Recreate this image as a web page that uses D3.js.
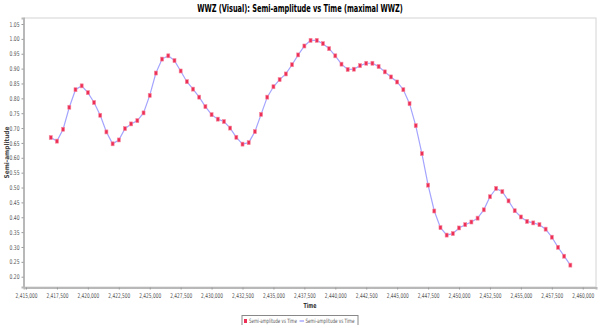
<!DOCTYPE html>
<html>
<head>
<meta charset="utf-8">
<script src="https://cdn.jsdelivr.net/npm/d3@7"></script>
<style>
html,body{margin:0;padding:0;background:#fff;}
svg{display:block;}
</style>
</head>
<body>
<svg id="chart" width="600" height="325"></svg>
<script>
const times = [2417000,2417500,2418000,2418500,2419000,2419500,2420000,2420500,2421000,2421500,
2422000,2422500,2423000,2423500,2424000,2424500,2425000,2425500,2426000,2426500,
2427000,2427500,2428000,2428500,2429000,2429500,2430000,2430500,2431000,2431500,
2432000,2432500,2433000,2433500,2434000,2434500,2435000,2435500,2436000,2436500,
2437000,2437500,2438000,2438500,2439000,2439500,2440000,2440500,2441000,2441500,
2442000,2442500,2443000,2443500,2444000,2444500,2445000,2445500,2446000,2446500,
2447000,2447500,2448000,2448500,2449000,2449500,2450000,2450500,2451000,2451500,
2452000,2452500,2453000,2453500,2454000,2454500,2455000,2455500,2456000,2456500,
2457000,2457500,2458000,2458500,2459000];
const semiAmplitude = [0.668,0.656,0.696,0.770,0.829,0.842,0.819,0.786,0.743,0.687,
0.647,0.660,0.698,0.714,0.725,0.751,0.810,0.885,0.932,0.943,
0.927,0.892,0.856,0.831,0.804,0.772,0.745,0.730,0.722,0.700,
0.669,0.646,0.651,0.688,0.746,0.804,0.839,0.863,0.882,0.913,
0.946,0.976,0.995,0.995,0.984,0.967,0.943,0.915,0.897,0.898,
0.910,0.918,0.918,0.907,0.889,0.872,0.855,0.829,0.782,0.708,
0.614,0.508,0.421,0.365,0.340,0.345,0.364,0.375,0.384,0.397,
0.425,0.469,0.497,0.486,0.455,0.422,0.401,0.386,0.381,0.375,
0.360,0.333,0.299,0.269,0.239];
const yTicks = [0.20,0.25,0.30,0.35,0.40,0.45,0.50,0.55,0.60,0.65,0.70,0.75,0.80,0.85,0.90,0.95,1.00,1.05];
const xTicks = [2415000,2417500,2420000,2422500,2425000,2427500,2430000,2432500,2435000,2437500,
2440000,2442500,2445000,2447500,2450000,2452500,2455000,2457500,2460000];
const titleText = "WWZ (Visual): Semi-amplitude vs Time (maximal WWZ)";
const xLabel = "Time";
const yLabel = "Semi-amplitude";
const seriesName = "Semi-amplitude vs Time";

(function () {
const svg = d3.select("#chart");
const pL = 24, pR = 596, pT = 18, pB = 287;
const x = d3.scaleLinear().domain([2414838, 2461071]).range([pL, pR]);
const y = d3.scaleLinear().domain([0.1654, 1.0702]).range([pB, pT]);

const font = "'DejaVu Sans Condensed','Liberation Sans Narrow','DejaVu Sans',sans-serif";

// squeeze a text horizontally to a target width (transform keeps bbox honest)
function squeeze(sel, width, anchorX, baseTransform) {
  sel.each(function () {
    const nat = this.getComputedTextLength();
    const sx = Math.min(1, width / nat);
    const t = d3.select(this);
    const ax = anchorX != null ? anchorX : +(t.attr("x") || 0);
    t.attr("x", ax / sx).attr("transform", (baseTransform || "") + ` scale(${sx},1)`);
  });
}

// plot frame
svg.append("rect").attr("x", pL).attr("y", pT).attr("width", pR-pL).attr("height", pB-pT)
  .attr("fill", "#fff").attr("stroke", "#d4d4d4").attr("stroke-width", 1);

// title
svg.append("text").attr("y", 12).attr("text-anchor", "middle")
  .attr("font-family", font).attr("font-weight", "bold").attr("font-size", 11)
  .attr("fill", "#000").text(titleText).call(squeeze, 206, 300);

// axes
const yAxis = d3.axisLeft(y).tickValues(yTicks).tickFormat(d3.format(".2f")).tickSize(2).tickPadding(2);
const gy = svg.append("g").attr("transform", `translate(${pL - 0.5},0)`).call(yAxis);
gy.select(".domain").attr("stroke", "#b8b8b8").attr("stroke-width", 2);
gy.selectAll(".tick line").attr("stroke", "#999");
gy.selectAll(".tick text").attr("font-family", font).attr("font-size", 6.5).attr("fill", "#555")
  .call(squeeze, 10, -4);

const xAxis = d3.axisBottom(x).tickValues(xTicks).tickFormat(d3.format(",")).tickSize(2).tickPadding(4);
const gx = svg.append("g").attr("transform", `translate(0,${pB + 0.5})`).call(xAxis);
gx.select(".domain").attr("stroke", "#b8b8b8").attr("stroke-width", 2);
gx.selectAll(".tick line").attr("stroke", "#999");
gx.selectAll(".tick text").attr("font-family", font).attr("font-size", 6.5).attr("fill", "#555")
  .call(squeeze, 22, 0);

// axis labels
svg.append("text").attr("y", 308).attr("text-anchor", "middle")
  .attr("font-family", font).attr("font-weight", "bold").attr("font-size", 7).attr("fill", "#333")
  .text(xLabel).call(squeeze, 13, (pL+pR)/2);
svg.append("text").attr("text-anchor", "middle").attr("font-family", font).attr("font-weight", "bold")
  .attr("font-size", 6.5).attr("fill", "#444").attr("y", 0)
  .text(yLabel).call(squeeze, 56, 0, `translate(9,${(pT+pB)/2}) rotate(-90)`);

// line
const data = times.map((t, i) => ({t, v: semiAmplitude[i]}));
const line = d3.line().x(d => x(d.t)).y(d => y(d.v));
svg.append("path").datum(data).attr("d", line).attr("fill", "none")
  .attr("stroke", "#a4a4ff").attr("stroke-width", 1.2);

// markers
svg.append("g").selectAll("rect").data(data).join("rect")
  .attr("x", d => x(d.t) - 1.5).attr("y", d => y(d.v) - 2)
  .attr("width", 3).attr("height", 4)
  .attr("fill", "#ee2f55").attr("stroke", "#f58aa0").attr("stroke-width", 0.6);

// legend
const lg = svg.append("g");
lg.append("rect").attr("x", 242).attr("y", 315.5).attr("width", 116).attr("height", 12)
  .attr("fill", "#fff").attr("stroke", "#888").attr("stroke-width", 1);
lg.append("rect").attr("x", 244).attr("y", 319).attr("width", 3).attr("height", 4)
  .attr("fill", "#ee2f55");
lg.append("text").attr("y", 323.5).attr("font-family", font).attr("font-size", 6)
  .attr("fill", "#555").text(seriesName).call(squeeze, 48, 249);
lg.append("line").attr("x1", 299.5).attr("x2", 304).attr("y1", 321).attr("y2", 321)
  .attr("stroke", "#8080ff").attr("stroke-width", 1);
lg.append("text").attr("y", 323.5).attr("font-family", font).attr("font-size", 6)
  .attr("fill", "#555").text(seriesName).call(squeeze, 49, 305.5);
})();
</script>
</body>
</html>
